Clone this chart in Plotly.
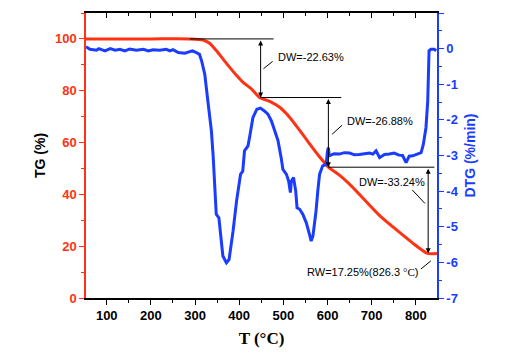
import plotly.graph_objects as go

# ---- data ----
T_tg = [53, 100, 200, 288, 318, 333, 348, 363, 378, 394, 408, 427, 446, 469, 491,
        514, 537, 559, 582, 602, 627, 656, 717, 793, 826, 848]
TG = [100, 100, 100, 100, 99.6, 98.3, 95.5, 92.3, 89.1, 85.9, 83.3, 80.8, 77.4, 75.9,
      73.7, 69.8, 64.7, 59.6, 54.5, 50.5, 47.4, 42.9, 32.0, 21.2, 17.25, 17.2]

T_dtg = [53, 62, 77, 82, 96, 108, 119, 130, 141, 152, 167, 183, 194, 205, 220, 235, 243,
         250, 262, 277, 288, 294, 303, 310, 315, 322, 329, 337, 341, 344, 348, 354, 360,
         363, 371, 377, 386, 394, 403, 408, 412, 420, 424, 431, 440, 448, 457, 465, 473,
         480, 488, 495, 499, 507, 512, 516, 518, 523, 528, 531, 537, 544, 552, 559, 563,
         567, 570, 574, 578, 582, 589, 597, 600, 602, 604, 615, 627, 638, 650, 661, 672,
         684, 695, 703, 710, 718, 729, 740, 751, 762, 770, 778, 785, 793, 803, 812, 817,
         823, 827, 830, 834, 842, 846]
DTG = [0.05, -0.02, -0.045, 0, -0.065, 0, -0.045, -0.02, -0.065, -0.01, -0.045, -0.02,
       -0.065, -0.03, -0.045, -0.02, -0.065, -0.03, -0.11, -0.13, -0.085, -0.065, -0.11,
       -0.16, -0.35, -0.72, -1.47, -2.31, -3.01, -3.6, -4.65, -4.75, -5.40, -5.82, -6.01,
       -5.92, -5.13, -4.28, -3.53, -3.44, -2.87, -2.73, -2.45, -1.94, -1.70, -1.67, -1.75,
       -1.84, -2.03, -2.31, -2.59, -3.06, -3.39, -3.53, -3.72, -4.04, -3.72, -3.62, -4.0,
       -4.47, -4.51, -4.65, -4.89, -5.21, -5.40, -5.26, -4.98, -4.56, -4.00, -3.53, -3.29,
       -3.25, -2.87, -2.78, -3.01, -2.95, -2.96, -2.92, -2.93, -2.98, -2.97, -2.94, -2.93,
       -2.96, -2.87, -3.06, -2.97, -2.96, -2.93, -2.99, -3.0, -3.20, -3.02, -3.01, -2.96,
       -2.92, -2.69, -2.22, -1.47, -0.06, -0.02, -0.02, -0.06]

x_ticks = [100, 200, 300, 400, 500, 600, 700, 800]
tg_ticks = [0, 20, 40, 60, 80, 100]
dtg_ticks = [1, 0, -1, -2, -3, -4, -5, -6, -7]
dtg_ticktext = ["1", "0", "-1", "-2", "-3", "-4", "-5", "-6", "-7"]

# step annotation values
step_levels = [100, 77.37, 50.49, 17.25]
step_T = [448.5, 602, 828]          # positions of the vertical arrows
line_start = [288, 448.5, 602]
line_end = [478, 631, 842]
dw_labels = ["DW=-22.63%", "DW=-26.88%", "DW=-33.24%"]
dw_label_T = [484, 640, 667]
dw_label_y = [92.9, 68.3, 44.6]
rw_label = "RW=17.25%(826.3 <span style='font-family:Liberation Serif'>°C</span>)"
rw_label_pos = (548, 9.85)
leaders = [((455, 88.5), (475.6, 91.3)), ((610.5, 63.2), (633, 66.7)),
           ((792, 41.7), (820.7, 36.5)), ((811.6, 11.2), (834, 14.3))]

RED = "#ff3214"
BLUE = "#1a3cff"
SANS = "Liberation Sans, Arial, sans-serif"

fig = go.Figure()
fig.add_trace(go.Scatter(x=T_tg, y=TG, mode="lines", line=dict(color=RED, width=3, shape="spline", smoothing=0.6),
                         yaxis="y", xaxis="x", showlegend=False))
fig.add_trace(go.Scatter(x=T_dtg, y=DTG, mode="lines", line=dict(color=BLUE, width=3),
                         yaxis="y2", xaxis="x", showlegend=False))

shapes = []
for i in range(3):
    shapes.append(dict(type="line", xref="x", yref="y", x0=line_start[i], x1=line_end[i],
                       y0=step_levels[i], y1=step_levels[i], line=dict(color="black", width=1)))
for (a, b) in leaders:
    shapes.append(dict(type="line", xref="x", yref="y", x0=a[0], y0=a[1], x1=b[0], y1=b[1],
                       line=dict(color="black", width=1)))

annotations = []
for i in range(3):
    annotations.append(dict(x=step_T[i], y=step_levels[i + 1], ax=step_T[i], ay=step_levels[i],
                            xref="x", yref="y", axref="x", ayref="y", showarrow=True,
                            arrowhead=2, arrowside="end+start", arrowsize=1, arrowwidth=1,
                            arrowcolor="black", standoff=0, startstandoff=0, text=""))
    annotations.append(dict(x=dw_label_T[i], y=dw_label_y[i], xref="x", yref="y",
                            text=dw_labels[i], showarrow=False, xanchor="left", yanchor="middle",
                            font=dict(family=SANS, size=11, color="black")))
annotations.append(dict(x=rw_label_pos[0], y=rw_label_pos[1], xref="x", yref="y", text=rw_label,
                        showarrow=False, xanchor="left", yanchor="middle",
                        font=dict(family=SANS, size=11, color="black")))

# page body has an 8px default margin, so the figure is sized to fit the window
fig.update_layout(
    width=501, height=355,
    margin=dict(l=78, r=72, t=5, b=65, autoexpand=False),
    paper_bgcolor="white", plot_bgcolor="white",
    showlegend=False,
    shapes=shapes, annotations=annotations,
    xaxis=dict(range=[53, 848], automargin=False, showgrid=False, zeroline=False, showline=True,
               linecolor="black", linewidth=1.5, ticks="outside", ticklen=5, tickwidth=1.2,
               tickcolor="black", tickvals=x_ticks,
               minor=dict(dtick=50, tick0=0, ticks="outside", ticklen=3, tickcolor="black"),
               tickfont=dict(family=SANS, size=13, color="black", weight="bold"),
               title=dict(text="T (°C)", standoff=10,
                          font=dict(family="Liberation Serif, Times New Roman, serif", size=17,
                                    color="black", weight="bold"))),
    xaxis2=dict(range=[53, 848], overlaying="x", side="top", automargin=False, showgrid=False,
                zeroline=False, showline=True, linecolor="black", linewidth=1.5, ticks="inside",
                ticklen=5, tickcolor="black", tickvals=x_ticks, showticklabels=False,
                minor=dict(dtick=50, tick0=0, ticks="inside", ticklen=3, tickcolor="black")),
    yaxis=dict(range=[0, 110], automargin=False, showgrid=False, zeroline=False, showline=True,
               linecolor=RED, linewidth=1.5, ticks="outside", ticklen=5, tickcolor=RED,
               tickvals=tg_ticks,
               minor=dict(dtick=10, tick0=0, ticks="outside", ticklen=3, tickcolor=RED),
               tickfont=dict(family=SANS, size=13, color=RED, weight="bold"),
               title=dict(text="TG (%)", standoff=6,
                          font=dict(family=SANS, size=14, color="black", weight="bold"))),
    yaxis2=dict(range=[-7, 1], overlaying="y", side="right", automargin=False, showgrid=False,
                zeroline=False, showline=True, linecolor=BLUE, linewidth=1.5, ticks="outside",
                ticklen=5, tickcolor=BLUE, tickvals=dtg_ticks, ticktext=dtg_ticktext,
                minor=dict(dtick=0.5, tick0=0, ticks="outside", ticklen=3, tickcolor=BLUE),
                tickfont=dict(family=SANS, size=13, color=BLUE, weight="bold"),
                title=dict(text="DTG (%/min)", standoff=8,
                           font=dict(family=SANS, size=14, color=BLUE, weight="bold"))),
)
# invisible trace on xaxis2 so the top axis renders
fig.add_trace(go.Scatter(x=[53], y=[0], xaxis="x2", yaxis="y", mode="markers",
                         marker=dict(opacity=0), showlegend=False, hoverinfo="skip"))

fig.write_html("out.html")
